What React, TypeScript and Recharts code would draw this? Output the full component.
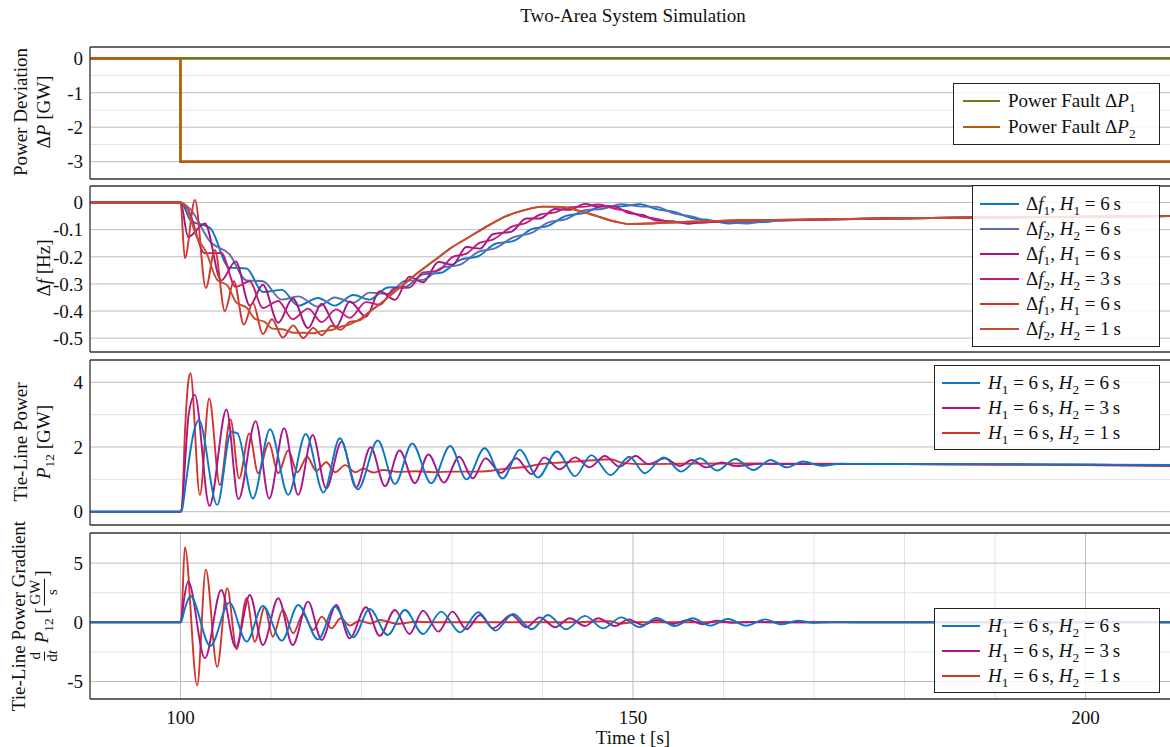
import React from 'react';
import { LineChart, Line, XAxis, YAxis, CartesianGrid } from 'recharts';

type Pt = [number, number];

const FONT = '"Liberation Serif", "Times New Roman", serif';

// shared time axis
const tDomain: [number, number] = [90, 210];
const xMajor = [100, 150, 200];
const xMinor = [110, 120, 130, 140, 160, 170, 180, 190];
const xAllTicks = [100, 110, 120, 130, 140, 150, 160, 170, 180, 190, 200];

// panel 1: power faults
const faultP1: Pt[] = [[90, 0], [210, 0]];
const faultP2: Pt[] = [[90, 0], [100, 0], [100, -3], [210, -3]];

// panel 2: frequency deviations
const df1H6: Pt[] = [[90, 0], [100, 0], [100.3, -0.01], [101.1, -0.065], [103.3, -0.095], [105.4, -0.24], [107.3, -0.243], [109.1, -0.33], [111.2, -0.322], [113, -0.38], [115.2, -0.352], [117.05, -0.38], [119.1, -0.341], [120.9, -0.358], [122.9, -0.313], [124.8, -0.311], [126.8, -0.265], [128.8, -0.259], [130.9, -0.211], [132.9, -0.198], [134.8, -0.152], [136.75, -0.142], [138.8, -0.098], [140.6, -0.086], [142.6, -0.049], [144.7, -0.038], [146.7, -0.013], [148.7, -0.014], [150.75, -0.006], [152.6, -0.024], [154.6, -0.035], [156.6, -0.058], [158.5, -0.065], [160.5, -0.077], [162.5, -0.073], [164.6, -0.072], [166.4, -0.065], [170, -0.063], [180, -0.058], [190, -0.055], [200, -0.052], [210, -0.05]];
const df2H6: Pt[] = [[90, 0], [100, 0], [100.3, -0.004], [101.1, -0.025], [103.3, -0.145], [105.4, -0.19], [107.3, -0.287], [109.1, -0.29], [111.2, -0.358], [113, -0.346], [115.2, -0.384], [117.05, -0.35], [119.1, -0.369], [120.9, -0.332], [122.9, -0.337], [124.8, -0.289], [126.8, -0.285], [128.8, -0.241], [130.9, -0.229], [132.9, -0.182], [134.8, -0.168], [136.75, -0.128], [138.8, -0.112], [140.6, -0.074], [142.6, -0.061], [144.7, -0.028], [146.7, -0.023], [148.7, -0.006], [150.75, -0.014], [152.6, -0.016], [154.6, -0.041], [156.6, -0.052], [158.5, -0.071], [160.5, -0.073], [162.5, -0.077], [164.6, -0.068], [166.4, -0.067], [170, -0.063], [180, -0.058], [190, -0.055], [200, -0.052], [210, -0.05]];
const df1H3: Pt[] = [[90, 0], [100, 0], [100.85, -0.127], [102.7, -0.077], [104.5, -0.287], [106.1, -0.217], [107.66, -0.38], [109.1, -0.303], [110.8, -0.443], [112.4, -0.354], [114.1, -0.463], [115.6, -0.373], [117.2, -0.458], [118.7, -0.365], [120.5, -0.421], [122, -0.327], [123.7, -0.359], [125.3, -0.273], [126.8, -0.294], [128.5, -0.219], [130.05, -0.229], [131.6, -0.164], [133.1, -0.17], [134.5, -0.117], [136.6, -0.107], [138.2, -0.059], [139.7, -0.059], [141.4, -0.024], [143, -0.027], [144.7, -0.005], [146.15, -0.015], [148, -0.015], [149.5, -0.039], [151.1, -0.046], [152.6, -0.066], [154.4, -0.069], [156.1, -0.078], [157.75, -0.072], [159.2, -0.071], [162, -0.066], [170, -0.063], [180, -0.058], [190, -0.055], [200, -0.052], [210, -0.05]];
const df2H3: Pt[] = [[90, 0], [100, 0], [100.85, -0.027], [102.7, -0.187], [104.5, -0.186], [106.1, -0.311], [107.66, -0.29], [109.1, -0.389], [110.8, -0.363], [112.4, -0.43], [114.1, -0.391], [115.6, -0.441], [117.2, -0.394], [118.7, -0.425], [120.5, -0.367], [122, -0.377], [123.7, -0.315], [125.3, -0.313], [126.8, -0.258], [128.5, -0.251], [130.05, -0.201], [131.6, -0.188], [133.1, -0.148], [134.5, -0.137], [136.6, -0.089], [138.2, -0.075], [139.7, -0.045], [141.4, -0.036], [143, -0.017], [144.7, -0.015], [146.15, -0.007], [148, -0.023], [149.5, -0.033], [151.1, -0.052], [152.6, -0.06], [154.4, -0.073], [156.1, -0.074], [157.75, -0.075], [159.2, -0.07], [162, -0.066], [170, -0.063], [180, -0.058], [190, -0.055], [200, -0.052], [210, -0.05]];
const df1H1: Pt[] = [[90, 0], [100, 0], [100.48, -0.205], [101.6, 0.01], [102.8, -0.315], [103.8, -0.175], [104.9, -0.4], [105.9, -0.29], [107, -0.45], [108, -0.37], [109.1, -0.485], [110.1, -0.43], [111.3, -0.498], [112.45, -0.453], [113.55, -0.5], [114.66, -0.462], [115.6, -0.489], [116.7, -0.454], [117.7, -0.469], [118.7, -0.44], [119.8, -0.434], [121, -0.4], [122, -0.375], [124, -0.32], [126, -0.265], [128, -0.215], [130, -0.165], [132, -0.125], [134, -0.085], [136, -0.05], [138, -0.028], [140, -0.015], [142, -0.016], [144, -0.03], [146, -0.05], [148, -0.07], [149.5, -0.079], [152, -0.077], [156, -0.071], [160, -0.067], [170, -0.062], [180, -0.058], [190, -0.055], [200, -0.052], [210, -0.05]];
const df2H1: Pt[] = [[90, 0], [100, 0], [100.48, -0.008], [101.84, -0.13], [102.8, -0.18], [104.05, -0.285], [105.16, -0.305], [106.2, -0.37], [107.3, -0.387], [108.2, -0.428], [109.3, -0.44], [110.2, -0.465], [111.3, -0.467], [112.45, -0.48], [113.55, -0.48], [114.66, -0.482], [115.6, -0.474], [116.7, -0.47], [117.7, -0.458], [118.7, -0.449], [119.8, -0.43], [121, -0.4], [122, -0.375], [124, -0.32], [126, -0.265], [128, -0.215], [130, -0.165], [132, -0.125], [134, -0.085], [136, -0.05], [138, -0.028], [140, -0.015], [142, -0.016], [144, -0.03], [146, -0.05], [148, -0.07], [149.5, -0.079], [152, -0.077], [156, -0.071], [160, -0.067], [170, -0.062], [180, -0.058], [190, -0.055], [200, -0.052], [210, -0.05]];

// panel 3: tie-line power
const p12H6: Pt[] = [[90, 0], [100, 0], [100.15, 0.05], [100.6, 0.9], [101.1, 1.9], [101.5, 2.5], [102.03, 2.83], [104.05, 0.21], [105.6, 2.47], [106.3, 2.42], [108, 0.41], [109.9, 2.55], [111.9, 0.52], [113.85, 2.4], [115.8, 0.59], [117.6, 2.27], [119.6, 0.69], [121.8, 2.2], [123.7, 0.86], [125.6, 2.11], [127.7, 0.88], [129.8, 2.03], [131.6, 1.0], [133.6, 1.96], [135.6, 1.03], [137.5, 1.91], [139.5, 1.06], [141.6, 1.86], [143.6, 1.1], [145.4, 1.75], [147.5, 1.13], [149.6, 1.7], [151.3, 1.19], [153.4, 1.68], [155.3, 1.24], [157.4, 1.65], [159.3, 1.27], [161.3, 1.63], [163.3, 1.29], [165.2, 1.6], [167, 1.37], [168.8, 1.55], [170.8, 1.42], [173, 1.48], [180, 1.47], [190, 1.47], [200, 1.46], [210, 1.44]];
const p12H3: Pt[] = [[90, 0], [100, 0], [100.15, 0.1], [100.5, 1.5], [100.9, 3.0], [101.58, 3.61], [103.2, 0.18], [105.08, 3.16], [106.4, 0.38], [108.3, 2.8], [109.8, 0.41], [111.45, 2.58], [113, 0.52], [114.6, 2.37], [116.1, 0.72], [117.8, 2.16], [119.4, 0.75], [121, 1.99], [122.6, 0.79], [124.2, 1.89], [125.9, 0.88], [127.4, 1.77], [129.1, 0.9], [130.8, 1.7], [132.3, 1.03], [133.7, 1.65], [135.4, 1.2], [137.1, 1.65], [138.8, 1.16], [140.2, 1.68], [141.9, 1.31], [143.6, 1.68], [145.2, 1.37], [146.9, 1.72], [148.5, 1.39], [150.3, 1.72], [151.7, 1.47], [153.5, 1.65], [155.2, 1.41], [156.5, 1.6], [158.1, 1.37], [159.8, 1.52], [161.4, 1.41], [164, 1.48], [170, 1.47], [180, 1.47], [190, 1.46], [200, 1.45], [210, 1.43]];
const p12H1: Pt[] = [[90, 0], [100, 0], [100.15, 0.1], [100.5, 2.5], [100.85, 3.99], [101.1, 4.28], [102.14, 0.52], [103.17, 3.5], [104.35, 0.82], [105.52, 2.85], [106.48, 1.03], [107.6, 2.42], [108.58, 1.19], [109.76, 2.13], [110.8, 1.19], [111.9, 1.89], [112.93, 1.22], [114, 1.7], [115, 1.26], [116.1, 1.53], [117.1, 1.22], [118.2, 1.44], [119.3, 1.22], [120.2, 1.33], [121.3, 1.21], [122.4, 1.29], [124, 1.23], [126, 1.25], [128, 1.22], [130, 1.24], [133, 1.24], [136, 1.33], [138, 1.38], [140, 1.48], [142, 1.52], [144, 1.56], [146, 1.6], [147.5, 1.62], [149, 1.5], [151, 1.47], [155, 1.48], [160, 1.49], [170, 1.48], [180, 1.47], [190, 1.46], [200, 1.44], [210, 1.41]];

// panel 4: tie-line power gradient
const gH6: Pt[] = [[90, 0], [100, 0], [100.1, 0.1], [100.5, 1.2], [101.1, 2.22], [103.3, -2.0], [105.4, 1.66], [107.3, -1.63], [109.1, 1.38], [111.2, -1.55], [113, 1.46], [115.2, -1.44], [117.05, 1.32], [119.1, -1.27], [120.9, 1.13], [122.9, -1.07], [124.8, 1.04], [126.8, -0.99], [128.8, 0.9], [130.9, -0.85], [132.9, 0.85], [134.8, -0.7], [136.75, 0.7], [138.8, -0.59], [140.6, 0.62], [142.6, -0.59], [144.7, 0.54], [146.7, -0.51], [148.7, 0.42], [150.75, -0.42], [152.6, 0.37], [154.6, -0.31], [156.6, 0.34], [158.5, -0.28], [160.5, 0.28], [162.5, -0.28], [164.6, 0.25], [166.4, -0.17], [168.2, 0.14], [170, -0.05], [172, 0.03], [175, 0], [210, 0]];
const gH3: Pt[] = [[90, 0], [100, 0], [100.1, 0.2], [100.4, 2.0], [100.85, 3.46], [102.7, -3.04], [104.5, 2.73], [106.1, -2.11], [107.66, 2.31], [109.1, -1.92], [110.8, 2.03], [112.4, -1.92], [114.1, 1.75], [115.6, -1.49], [117.2, 1.46], [118.7, -1.35], [120.5, 1.27], [122, -1.15], [123.7, 1.04], [125.3, -0.99], [126.8, 0.99], [128.5, -0.79], [130.05, 0.9], [131.6, -0.59], [133.1, 0.62], [134.5, -0.5], [136.6, 0.62], [138.2, -0.42], [139.7, 0.42], [141.4, -0.42], [143, 0.34], [144.7, -0.31], [146.15, 0.34], [148, -0.31], [149.5, 0.25], [151.1, -0.23], [152.6, 0.2], [154.4, -0.14], [156.1, 0.2], [157.75, -0.17], [159.2, 0.14], [161, -0.05], [163, 0.03], [166, 0], [210, 0]];
const gH1: Pt[] = [[90, 0], [100, 0], [100.1, 0.3], [100.48, 6.35], [101.84, -5.33], [102.8, 4.45], [104.05, -3.77], [105.16, 2.89], [106.2, -2.27], [107.3, 2.04], [108.2, -1.64], [109.3, 1.25], [110.2, -1.22], [111.3, 1.05], [112.45, -0.93], [113.55, 0.68], [114.66, -0.65], [115.6, 0.48], [116.7, -0.51], [117.7, 0.34], [118.7, -0.28], [119.8, 0.14], [121, -0.1], [122, 0.2], [124, -0.14], [126, 0.05], [128, 0], [144, 0], [146, 0.08], [147.5, 0.1], [148.5, -0.12], [150, 0], [210, 0]];

// y ticks
const y1Ticks = [-3, -2, -1, 0];
const y1Minor = [-2.5, -1.5, -0.5];
const y2Ticks = [-0.5, -0.4, -0.3, -0.2, -0.1, 0];
const y3Ticks = [0, 2, 4];
const y3Minor = [1, 3];
const y4Ticks = [-5, 0, 5];
const y4Minor = [-2.5, 2.5];

const C = {
  green: '#6b7c1d',
  brown: '#b35e0c',
  blue: '#0c77c5',
  slate: '#5d6cb2',
  purple: '#a1177f',
  pink: '#c41a7c',
  red: '#d2342e',
  rust: '#c2502c',
  mag: '#a8168a',
};

const toRows = (pts: Pt[]) => pts.map(([t, v]) => ({ t, v }));
const fmtNum = (v: number) => (v === 0 ? '0' : String(v));

type Series = { name: string; pts: Pt[]; color: string; width?: number; linear?: boolean };

function Panel({ plotTop, plotH, yDomain, yTicks, yMinor, series, last }: {
  plotTop: number; plotH: number; yDomain: [number, number]; yTicks: number[]; yMinor: number[]; series: Series[]; last?: boolean;
}) {
  const axisH = last ? 48 : 0;
  const h = plotH + 2 + (last ? axisH : 2);
  const tickStyle = { fontSize: 19, fill: '#111', fontFamily: FONT };
  return (
    <div style={{ position: 'absolute', left: 0, top: plotTop - 2, width: 1176, height: h }}>
      <LineChart width={1176} height={h} margin={{ top: 2, right: 0, bottom: last ? 0 : 2, left: 30 }}>
        <CartesianGrid
          horizontal={yMinor.length > 0}
          horizontalValues={yMinor}
          verticalValues={xMinor}
          stroke="#e4e4e4"
        />
        <CartesianGrid horizontalValues={yTicks} verticalValues={xMajor} stroke="#bcbcbc" />
        {last ? (
          <XAxis
            type="number"
            dataKey="t"
            domain={tDomain}
            allowDataOverflow
            ticks={xMajor}
            tickLine={false}
            tickSize={6}
            tickMargin={6}
            height={axisH}
            axisLine={{ stroke: '#333', strokeWidth: 1.3 }}
            tick={tickStyle}
          />
        ) : (
          <XAxis
            type="number"
            dataKey="t"
            domain={tDomain}
            allowDataOverflow
            ticks={xAllTicks}
            mirror
            tick={false}
            tickSize={5}
            height={1}
            axisLine={{ stroke: '#333', strokeWidth: 1.3 }}
            tickLine={{ stroke: '#666' }}
          />
        )}
        <XAxis
          xAxisId="top"
          orientation="top"
          type="number"
          domain={tDomain}
          allowDataOverflow
          ticks={xAllTicks}
          mirror
          tick={false}
          tickSize={5}
          height={1}
          axisLine={{ stroke: '#333', strokeWidth: 1.3 }}
          tickLine={{ stroke: '#666' }}
        />
        <YAxis
          type="number"
          domain={yDomain}
          allowDataOverflow
          ticks={yTicks}
          tickFormatter={fmtNum}
          width={60}
          tickLine={false}
          tickSize={0}
          tickMargin={7}
          axisLine={{ stroke: '#333', strokeWidth: 1.3 }}
          tick={tickStyle}
        />
        <YAxis
          yAxisId="in"
          type="number"
          domain={yDomain}
          allowDataOverflow
          ticks={[...yTicks, ...yMinor]}
          mirror
          tick={false}
          tickSize={5}
          width={1}
          axisLine={false}
          tickLine={{ stroke: '#666' }}
        />
        {series.map((s) => (
          <Line
            key={s.name}
            data={toRows(s.pts)}
            dataKey="v"
            type={s.linear ? 'linear' : 'monotone'}
            stroke={s.color}
            strokeWidth={s.width ?? 1.9}
            dot={false}
            activeDot={false}
            isAnimationActive={false}
          />
        ))}
      </LineChart>
    </div>
  );
}

function LegendBox({ left, top, width, rowH, pad, sampleL, sampleW, gap, items }: {
  left: number; top: number; width: number; rowH: number; pad: number; sampleL: number; sampleW: number; gap: number;
  items: { color: string; width?: number; label: React.ReactNode }[];
}) {
  return (
    <div
      style={{
        position: 'absolute', left, top, width, boxSizing: 'border-box',
        background: 'rgba(255,255,255,0.85)', border: '1px solid #222',
        padding: `${pad}px 0`, fontSize: 19, fontFamily: FONT,
      }}
    >
      {items.map((it, i) => (
        <div key={i} style={{ display: 'flex', alignItems: 'center', height: rowH, whiteSpace: 'nowrap' }}>
          <div style={{ marginLeft: sampleL, width: sampleW, height: it.width ?? 2, background: it.color }} />
          <span style={{ marginLeft: gap }}>{it.label}</span>
        </div>
      ))}
    </div>
  );
}

const Sub = ({ children }: { children: React.ReactNode }) => (
  <sub style={{ fontSize: '0.7em', lineHeight: 0 }}>{children}</sub>
);

const Frac = ({ n, d }: { n: React.ReactNode; d: React.ReactNode }) => (
  <span style={{ display: 'inline-flex', flexDirection: 'column', alignItems: 'center', verticalAlign: 'middle', fontSize: '0.78em', lineHeight: 1.05, margin: '0 2px' }}>
    <span style={{ borderBottom: '1px solid #111', padding: '0 1px' }}>{n}</span>
    <span>{d}</span>
  </span>
);

function VLabel({ x, y, children }: { x: number; y: number; children: React.ReactNode }) {
  return (
    <div
      style={{
        position: 'absolute', left: x, top: y, whiteSpace: 'nowrap', fontSize: 19, lineHeight: 1,
        fontFamily: FONT, transform: 'translate(-50%, -50%) rotate(-90deg)',
      }}
    >
      {children}
    </div>
  );
}

const fLabel = (k: string, h: string, v: string) => (
  <span>
    Δ<i>f</i><Sub>{k}</Sub>, <i>H</i><Sub>{h}</Sub> = {v}&#8201;s
  </span>
);
const hLabel = (v: string) => (
  <span>
    <i>H</i><Sub>1</Sub> = 6&#8201;s, <i>H</i><Sub>2</Sub> = {v}&#8201;s
  </span>
);

export default function App() {
  return (
    <div
      style={{
        position: 'absolute', left: 0, top: 0, width: 1170, height: 747, overflow: 'hidden',
        background: '#fff', fontFamily: FONT, color: '#111',
      }}
    >
      <div style={{ position: 'absolute', left: 633, top: 16, transform: 'translate(-50%, -50%)', fontSize: 19, whiteSpace: 'nowrap' }}>
        Two-Area System Simulation
      </div>

      <Panel
        plotTop={47}
        plotH={132}
        yDomain={[-3.502, 0.328]}
        yTicks={y1Ticks}
        yMinor={y1Minor}
        series={[
          { name: 'p1', pts: faultP1, color: C.green, width: 2.8, linear: true },
          { name: 'p2', pts: faultP2, color: C.brown, width: 2.8, linear: true },
        ]}
      />
      <Panel
        plotTop={186}
        plotH={166}
        yDomain={[-0.551, 0.061]}
        yTicks={y2Ticks}
        yMinor={[]}
        series={[
          { name: 'a', pts: df1H6, color: C.blue },
          { name: 'b', pts: df2H6, color: C.slate },
          { name: 'c', pts: df1H3, color: C.purple },
          { name: 'd', pts: df2H3, color: C.pink },
          { name: 'e', pts: df1H1, color: C.red },
          { name: 'f', pts: df2H1, color: C.rust },
        ]}
      />
      <Panel
        plotTop={360}
        plotH={165}
        yDomain={[-0.411, 4.689]}
        yTicks={y3Ticks}
        yMinor={y3Minor}
        series={[
          { name: 'r', pts: p12H1, color: C.red },
          { name: 'm', pts: p12H3, color: C.mag },
          { name: 'b', pts: p12H6, color: C.blue },
        ]}
      />
      <Panel
        plotTop={533}
        plotH={166}
        yDomain={[-6.478, 7.542]}
        yTicks={y4Ticks}
        yMinor={y4Minor}
        last
        series={[
          { name: 'r', pts: gH1, color: C.red },
          { name: 'm', pts: gH3, color: C.mag },
          { name: 'b', pts: gH6, color: C.blue },
        ]}
      />

      <LegendBox
        left={953} top={83} width={207} rowH={26} pad={4} sampleL={9} sampleW={37} gap={8}
        items={[
          { color: C.green, width: 2.8, label: <span>Power Fault Δ<i>P</i><Sub>1</Sub></span> },
          { color: C.brown, width: 2.8, label: <span>Power Fault Δ<i>P</i><Sub>2</Sub></span> },
        ]}
      />
      <LegendBox
        left={972} top={185} width={188} rowH={25} pad={5} sampleL={7} sampleW={39} gap={7}
        items={[
          { color: C.blue, label: fLabel('1', '1', '6') },
          { color: C.slate, label: fLabel('2', '2', '6') },
          { color: C.purple, label: fLabel('1', '1', '6') },
          { color: C.pink, label: fLabel('2', '2', '3') },
          { color: C.red, label: fLabel('1', '1', '6') },
          { color: C.rust, label: fLabel('2', '2', '1') },
        ]}
      />
      <LegendBox
        left={934} top={365} width={226} rowH={25} pad={4} sampleL={7} sampleW={38} gap={8}
        items={[
          { color: C.blue, label: hLabel('6') },
          { color: C.mag, label: hLabel('3') },
          { color: C.red, label: hLabel('1') },
        ]}
      />
      <LegendBox
        left={934} top={608} width={226} rowH={25} pad={4} sampleL={7} sampleW={38} gap={8}
        items={[
          { color: C.blue, label: hLabel('6') },
          { color: C.mag, label: hLabel('3') },
          { color: C.red, label: hLabel('1') },
        ]}
      />

      <VLabel x={20} y={112}>Power Deviation</VLabel>
      <VLabel x={43} y={112}>Δ<i>P</i> [GW]</VLabel>
      <VLabel x={43} y={268}>Δ<i>f</i> [Hz]</VLabel>
      <VLabel x={20} y={442}>Tie-Line Power</VLabel>
      <VLabel x={43} y={442}><i>P</i><Sub>12</Sub> [GW]</VLabel>
      <VLabel x={18} y={616}>Tie-Line Power Gradient</VLabel>
      <VLabel x={44} y={617}>
        <Frac n="d" d={<span>d<i>t</i></span>} /> <i>P</i><Sub>12</Sub> [<Frac n="GW" d="s" />]
      </VLabel>

      <div style={{ position: 'absolute', left: 633, top: 738, transform: 'translate(-50%, -50%)', fontSize: 19, whiteSpace: 'nowrap' }}>
        Time t [s]
      </div>
    </div>
  );
}
